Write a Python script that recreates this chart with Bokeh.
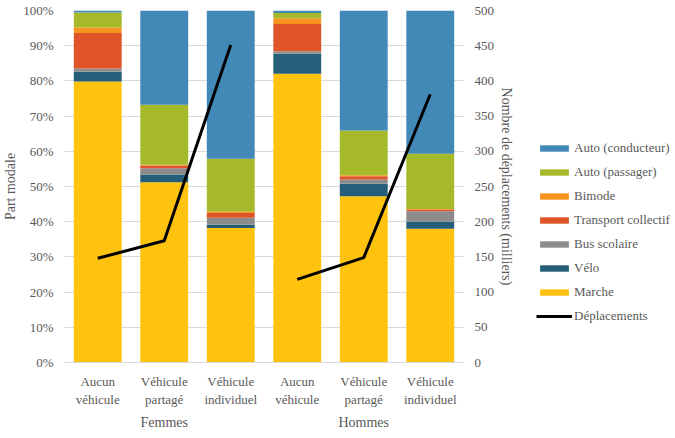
from bokeh.plotting import figure
from bokeh.layouts import row
from bokeh.models import (ColumnDataSource, FactorRange, Range1d, LinearAxis, Legend,
                          LegendItem, PrintfTickFormatter, SingleIntervalTicker)
from bokeh.embed import file_html
from bokeh.resources import INLINE

groups = ["Femmes", "Hommes"]
categories = ["Aucun\nvéhicule", "Véhicule\npartagé", "Véhicule\nindividuel"]
series = ["Marche", "Vélo", "Bus scolaire", "Transport collectif", "Bimode",
          "Auto (passager)", "Auto (conducteur)"]
marche = [79.8, 51.2, 38.2, 82.0, 47.2, 38.0]
velo = [2.8, 2.2, 0.9, 5.7, 3.6, 2.0]
bus = [0.9, 1.8, 2.0, 0.7, 1.2, 3.0]
tc = [10.1, 0.8, 1.4, 7.8, 0.9, 0.5]
bimode = [1.6, 0.2, 0.3, 1.6, 0.3, 0.1]
passager = [4.2, 17.0, 15.1, 1.5, 12.7, 15.7]
conducteur = [0.6, 26.8, 42.1, 0.7, 34.1, 40.7]
deplacements = [148, 173, 451, 118, 149, 381]
colors = ["#FFC20E", "#255E78", "#8C8C8C", "#E0542A", "#F7941D", "#A5B92B", "#4389B8"]

FONT = "'Liberation Serif'"
TXT = "#595959"

x = [(g, c) for g in groups for c in categories]
data = dict(x=x)
for name, vals in zip(series, [marche, velo, bus, tc, bimode, passager, conducteur]):
    data[name] = vals
src = ColumnDataSource(data)

p = figure(width=531, height=438,
           x_range=FactorRange(*x, factor_padding=0, group_padding=0, range_padding=0),
           y_range=Range1d(0, 100), output_backend="svg", toolbar_location=None,
           min_border_left=63, min_border_right=68, min_border_top=10, min_border_bottom=76)
p.outline_line_color = None
p.extra_y_ranges = {"dep": Range1d(0, 500)}

bars = p.vbar_stack(series, x="x", width=0.72, source=src, color=colors, line_color=None)
lines = []
for gi, g in enumerate(groups):
    xs = [(g, c) for c in categories]
    ys = deplacements[gi * 3:(gi + 1) * 3]
    lines.append(p.line(x=xs, y=ys, y_range_name="dep", line_color="black", line_width=3))

p.yaxis.ticker = SingleIntervalTicker(interval=10)
p.yaxis.formatter = PrintfTickFormatter(format="%d%%")
p.yaxis.axis_label = "Part modale"

rax = LinearAxis(y_range_name="dep", ticker=SingleIntervalTicker(interval=50),
                 axis_label="Nombre de déplacements (milliers)")
p.add_layout(rax, "right")

for ax in [p.yaxis[0], rax]:
    ax.axis_line_color = None
    ax.major_tick_line_color = None
    ax.minor_tick_line_color = None
    ax.major_label_text_font = FONT
    ax.major_label_text_font_size = "13px"
    ax.major_label_text_color = TXT
    ax.axis_label_text_font = FONT
    ax.axis_label_text_font_size = "14px"
    ax.axis_label_text_font_style = "normal"
    ax.axis_label_text_color = TXT
    ax.axis_label_standoff = 2
    ax.major_label_standoff = 5

xa = p.xaxis[0]
xa.axis_line_color = "#D9D9D9"
xa.major_tick_line_color = None
xa.minor_tick_line_color = None
xa.major_label_text_font = FONT
xa.major_label_text_font_size = "13px"
xa.major_label_text_color = TXT
xa.major_label_text_line_height = 1.2
xa.group_text_font = FONT
xa.group_text_font_size = "14px"
xa.group_text_font_style = "normal"
xa.group_text_color = TXT
xa.separator_line_color = None
xa.major_label_orientation = "horizontal"

p.xgrid.grid_line_color = None
p.ygrid.grid_line_color = "#D9D9D9"

# legend panel (proxy renderers are hidden; only their legend swatches show)
q = figure(width=144, height=438, x_range=Range1d(0, 1), y_range=Range1d(0, 1),
           output_backend="svg", toolbar_location=None, x_axis_type=None, y_axis_type=None,
           min_border=0)
q.outline_line_color = None
q.xgrid.grid_line_color = None
q.ygrid.grid_line_color = None
items = []
for name, c in list(zip(series, colors))[::-1]:
    r = q.vbar(x=[0.5], top=[1], width=0.5, color=c, line_color=None, visible=False)
    items.append(LegendItem(label=name, renderers=[r]))
rl = q.line(x=[0, 1], y=[0, 0], line_color="black", line_width=3, visible=False)
items.append(LegendItem(label="Déplacements", renderers=[rl]))
legend = Legend(items=items, location=(5, 36), glyph_width=36, glyph_height=8,
                label_height=20, spacing=4, label_standoff=2,
                label_text_font=FONT, label_text_font_size="13px", label_text_color=TXT,
                border_line_color=None, background_fill_alpha=0, padding=0, margin=0,
                inactive_fill_alpha=0)
q.add_layout(legend)

layout = row(p, q, spacing=0)
open("out.html", "w").write(file_html(layout, INLINE))
